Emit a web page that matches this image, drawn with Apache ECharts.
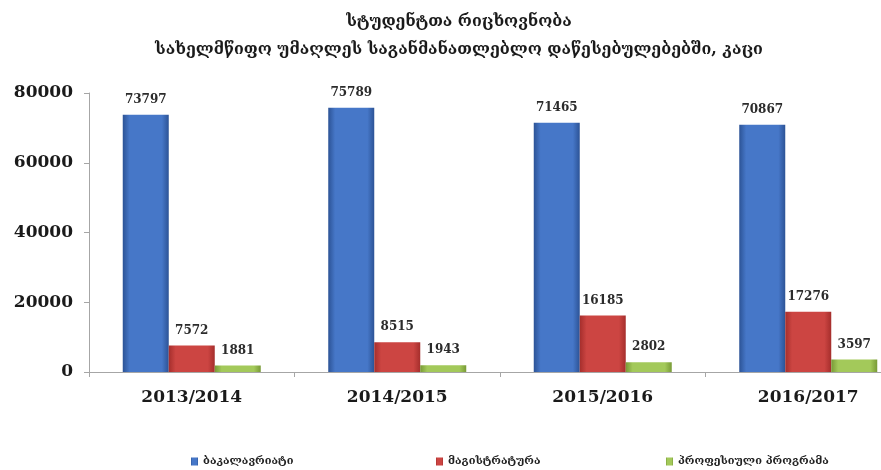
<!DOCTYPE html>
<html>
<head>
<meta charset="utf-8">
<script src="https://cdn.jsdelivr.net/npm/echarts@6/dist/echarts.min.js"></script>
<style>html,body{margin:0;padding:0;background:#fff;overflow:hidden;width:881px;height:470px}#c{width:911px;height:470px}</style>
</head>
<body>
<div id="c"></div>
<script>
const categories = ['2013/2014', '2014/2015', '2015/2016', '2016/2017'];
const seriesNames = ['ბაკალავრიატი', 'მაგისტრატურა', 'პროფესიული პროგრამა'];
const bachelor = [73797, 75789, 71465, 70867];
const master = [7572, 8515, 16185, 17276];
const vocational = [1881, 1943, 2802, 3597];
const yTicks = [0, 20000, 40000, 60000, 80000];
const titleText = 'სტუდენტთა რიცხოვნობა\nსახელმწიფო უმაღლეს საგანმანათლებლო დაწესებულებებში, კაცი';

const serif = 'DejaVu Serif, DejaVu Sans, serif';
function grad(edge, mid) {
  return new echarts.graphic.LinearGradient(0, 0, 1, 0, [
    {offset: 0, color: edge}, {offset: 0.15, color: mid},
    {offset: 0.85, color: mid}, {offset: 1, color: edge}
  ]);
}
const colors = [
  grad('#2c5396', '#4677c8'),
  grad('#a52e2c', '#cc4542'),
  grad('#789a36', '#a3c95a')
];
const legendColors = ['#4472c4', '#c0504d', '#9bbb59'];
const dataSets = [bachelor, master, vocational];
const labelStyle = {
  show: true, position: 'top', distance: 9,
  fontFamily: serif, fontWeight: 'bold', fontSize: 12, color: '#2b2b2b'
};

const chart = echarts.init(document.getElementById('c'), null, {renderer: 'canvas'});
chart.setOption({
  animation: false,
  color: legendColors,
  title: {
    text: titleText, left: 454, textAlign: 'center', top: 3,
    textStyle: {fontFamily: serif, fontWeight: 'bold', fontSize: 16, lineHeight: 28, color: '#1a1a1a'}
  },
  legend: seriesNames.map((n, i) => ({
    data: [n], left: [186, 431, 661][i], top: 451,
    icon: 'rect', itemWidth: 7, itemHeight: 8, itemGap: 4,
    textStyle: {fontFamily: serif, fontSize: 11, fontWeight: 'bold', color: '#222'}
  })),
  grid: {left: 89, right: 0, top: 93, bottom: 98, containLabel: false},
  xAxis: {
    type: 'category', data: categories,
    axisLine: {lineStyle: {color: '#a6a6a6'}},
    axisTick: {show: true, length: 5, lineStyle: {color: '#a6a6a6'}},
    axisLabel: {margin: 17, fontFamily: serif, fontWeight: 'bold', fontSize: 17, color: '#1a1a1a'}
  },
  yAxis: {
    type: 'value', min: yTicks[0], max: yTicks[yTicks.length - 1], interval: 20000,
    axisLine: {show: true, lineStyle: {color: '#a6a6a6'}},
    axisTick: {show: true, length: 5, lineStyle: {color: '#a6a6a6'}},
    splitLine: {show: false},
    axisLabel: {margin: 16, fontFamily: serif, fontWeight: 'bold', fontSize: 17, color: '#1a1a1a',
      formatter: v => String(v)}
  },
  series: seriesNames.map((n, i) => ({
    name: n, type: 'bar', data: dataSets[i],
    barWidth: 46, barGap: '0%',
    itemStyle: {color: colors[i]},
    label: labelStyle
  }))
});
</script>
</body>
</html>
